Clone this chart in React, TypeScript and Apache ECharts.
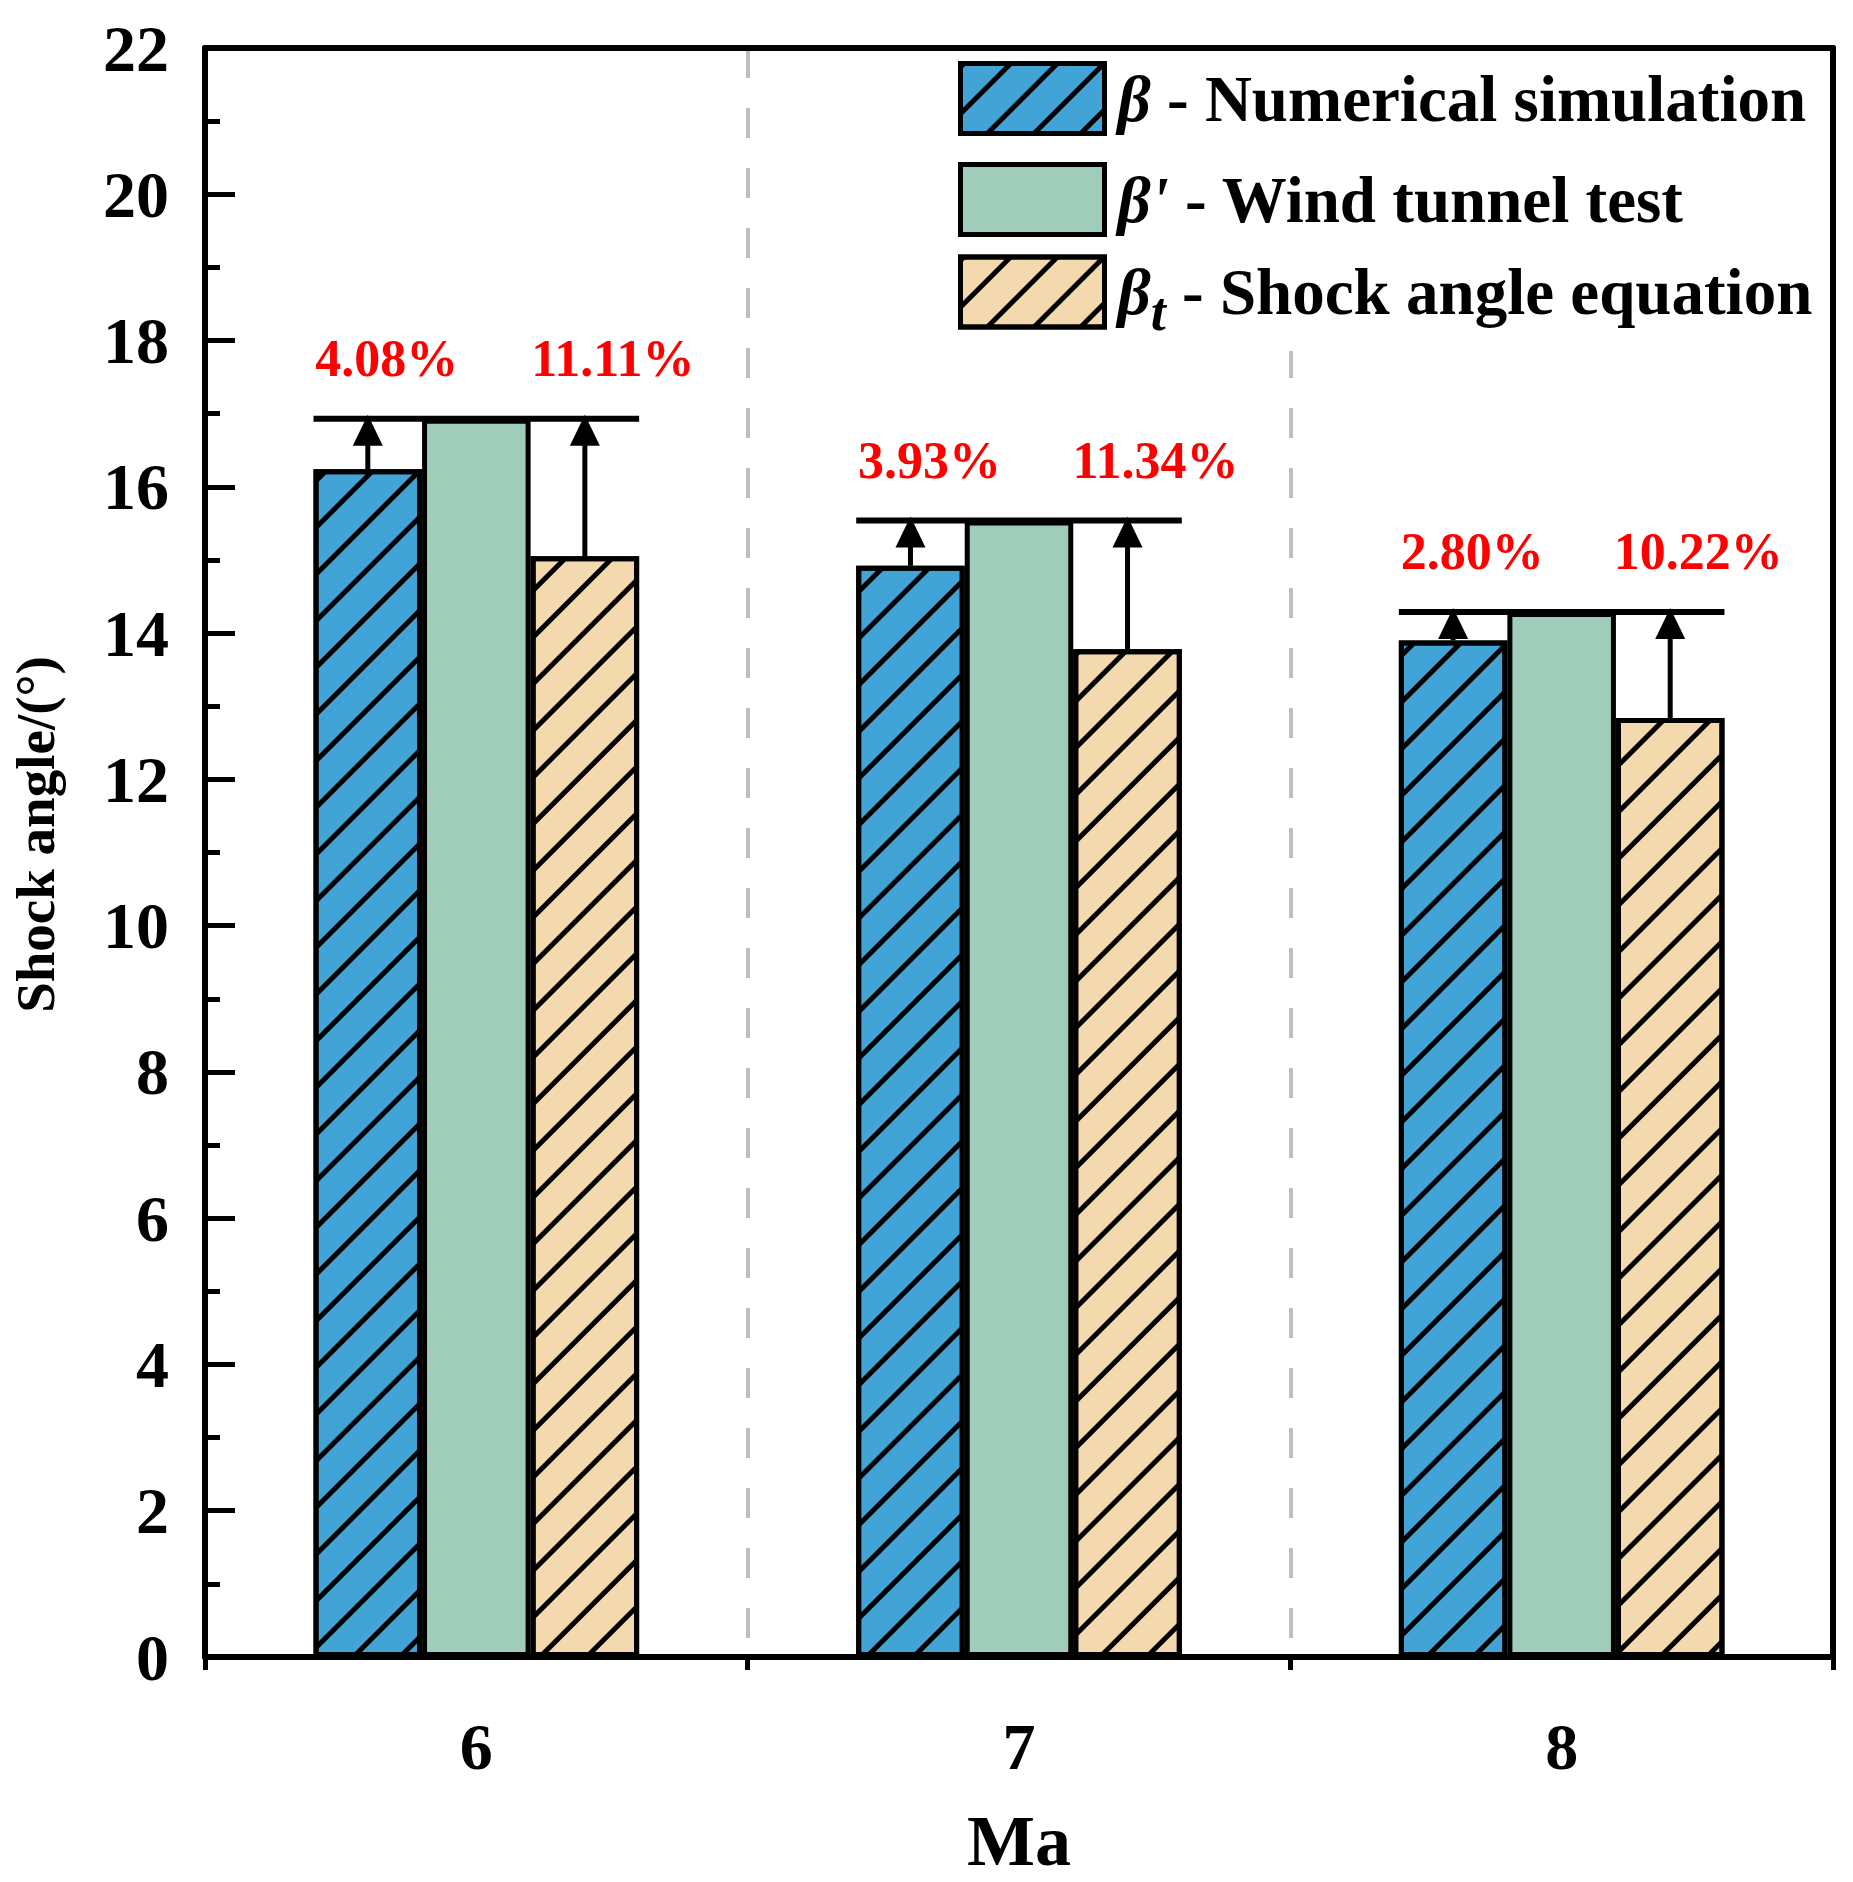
import { useEffect, useRef } from "react";
import * as echarts from "echarts";

const categories = ["6", "7", "8"];
const numerical = [16.24, 14.92, 13.9];
const windTunnel = [16.93, 15.54, 14.29];
const equation = [15.05, 13.78, 12.84];
const errNumerical = ["4.08%", "3.93%", "2.80%"];
const errEquation = ["11.11%", "11.34%", "10.22%"];

const FONT = "'Times New Roman', 'Liberation Serif', serif";
const CAT_GAP = 0.4;

const NAMES = ["β - Numerical simulation", "β' - Wind tunnel test", "βt - Shock angle equation"];
const LEGEND_RICH: Record<string, string> = {
    [NAMES[0]]: "{b|β} - Numerical simulation",
    [NAMES[1]]: "{b|β'} - Wind tunnel test",
    [NAMES[2]]: "{b|β}{s|t} - Shock angle equation",
};

// hachures "/" noires
const hatch = {
    symbol: "rect",
    symbolSize: 1,
    dashArrayX: [1, 0],
    dashArrayY: [5, 28],
    rotation: -Math.PI / 4,
    color: "#000",
};

export default function App() {
    const ref = useRef<HTMLDivElement | null>(null);

    useEffect(() => {
        document.body.style.margin = "0";
        if (!ref.current) return;
        const chart = echarts.init(ref.current, undefined, { renderer: "svg" });

        const barBase = {
            type: "bar" as const,
            barGap: "0%",
            barCategoryGap: `${CAT_GAP * 100}%`,
            xAxisIndex: 0,
            yAxisIndex: 0,
        };

        const legendBase = {
            orient: "vertical",
            left: 938,
            itemWidth: 144,
            itemHeight: 70,
            itemGap: 26,
            icon: "rect",
            backgroundColor: "#fff",
            itemStyle: { borderColor: "#000", borderWidth: 5 },
            formatter: (name: string) => LEGEND_RICH[name] ?? name,
            textStyle: {
                fontFamily: FONT,
                fontWeight: "bold",
                fontSize: 65,
                color: "#000",
                rich: {
                    b: { fontFamily: FONT, fontWeight: "bold", fontStyle: "italic", fontSize: 65, padding: [0, 0, 0, 8] },
                    // indice abaissé sans agrandir la ligne
                    s: {
                        fontFamily: FONT,
                        fontWeight: "bold",
                        fontStyle: "italic",
                        fontSize: 54,
                        lineHeight: 22,
                        padding: [40, 0, 0, 0],
                    },
                },
            },
        };

        const option: any = {
            animation: false,
            backgroundColor: "#fff",
            grid: { left: 204, right: 20, top: 48, bottom: 210, show: false },
            // deux légendes pour placer la 3e ligne plus près, comme dans l'original
            legend: [
                { ...legendBase, top: 50, padding: [11, 20, 15, 20], data: NAMES.slice(0, 2) },
                { ...legendBase, top: 234, padding: [11, 20, 12, 20], data: NAMES.slice(2) },
            ],
            xAxis: [
                {
                    type: "category",
                    data: categories,
                    position: "bottom",
                    z: 5,
                    name: "Ma",
                    nameLocation: "middle",
                    nameGap: 148,
                    nameTextStyle: { fontFamily: FONT, fontWeight: "bold", fontSize: 72, color: "#000" },
                    axisLine: { lineStyle: { color: "#000", width: 6 } },
                    axisTick: { alignWithLabel: true, length: 30, lineStyle: { color: "#000", width: 5 } },
                    axisLabel: { fontFamily: FONT, fontWeight: "bold", fontSize: 66, color: "#000", margin: 56 },
                    splitLine: { show: false },
                },
                {
                    type: "category",
                    data: categories,
                    position: "bottom",
                    axisLine: { show: false },
                    axisTick: { show: true, length: 13, lineStyle: { color: "#000", width: 5 } },
                    axisLabel: { show: false },
                    splitLine: { show: true, lineStyle: { color: "#BFBFBF", width: 4, type: [30, 30] } },
                },
                {
                    type: "category",
                    data: categories,
                    position: "top",
                    z: 5,
                    axisLine: { lineStyle: { color: "#000", width: 6 } },
                    axisTick: { show: false },
                    axisLabel: { show: false },
                },
            ],
            yAxis: [
                {
                    type: "value",
                    min: 0,
                    max: 22,
                    interval: 2,
                    z: 5,
                    name: "Shock angle/(°)",
                    nameLocation: "middle",
                    nameRotate: 90,
                    nameGap: 142,
                    nameTextStyle: { fontFamily: FONT, fontWeight: "bold", fontSize: 55, color: "#000", padding: [0, 0, 0, 36] },
                    axisLine: { show: true, lineStyle: { color: "#000", width: 6 } },
                    axisTick: { show: true, inside: true, length: 30, lineStyle: { color: "#000", width: 5 } },
                    minorTick: { show: true, splitNumber: 2, length: 15, lineStyle: { color: "#000", width: 5 } },
                    axisLabel: { fontFamily: FONT, fontWeight: "bold", fontSize: 66, color: "#000", margin: 36 },
                    splitLine: { show: false },
                },
                {
                    type: "value",
                    min: 0,
                    max: 22,
                    interval: 2,
                    position: "right",
                    z: 5,
                    axisLine: { show: true, lineStyle: { color: "#000", width: 6 } },
                    axisTick: { show: false },
                    axisLabel: { show: false },
                    splitLine: { show: false },
                },
            ],
            series: [
                {
                    ...barBase,
                    name: NAMES[0],
                    data: numerical,
                    itemStyle: { color: "#42A3D7", borderColor: "#000", borderWidth: 5, decal: hatch },
                },
                {
                    ...barBase,
                    name: NAMES[1],
                    data: windTunnel,
                    itemStyle: { color: "#A0CDB9", borderColor: "#000", borderWidth: 5 },
                },
                {
                    ...barBase,
                    name: NAMES[2],
                    data: equation,
                    itemStyle: { color: "#F5D9AE", borderColor: "#000", borderWidth: 5, decal: hatch },
                },
                {
                    // barre d'écart + flèches + pourcentages
                    type: "custom",
                    name: "errors",
                    z: 3,
                    clip: false,
                    silent: true,
                    encode: { x: 0, y: [1, 2, 3] },
                    data: categories.map((c, i) => [c, windTunnel[i], numerical[i], equation[i]]),
                    renderItem: (params: any, api: any) => {
                        const i = params.dataIndex;
                        const cat = api.value(0);
                        const [cx, yg] = api.coord([cat, api.value(1)]);
                        const yb = api.coord([cat, api.value(2)])[1];
                        const yt = api.coord([cat, api.value(3)])[1];
                        const bw = (api.size([1, 0])[0] * (1 - CAT_GAP)) / 3;
                        const bx = cx - bw;
                        const tx = cx + bw;
                        const arrow = (x: number, y0: number) => [
                            {
                                type: "line",
                                shape: { x1: x, y1: y0, x2: x, y2: yg + 20 },
                                style: { stroke: "#000", lineWidth: 5 },
                            },
                            {
                                type: "polygon",
                                shape: { points: [[x - 15, yg + 27], [x + 15, yg + 27], [x, yg - 4]] },
                                style: { fill: "#000" },
                            },
                        ];
                        const label = (x: number, text: string) => ({
                            type: "text",
                            x,
                            y: yg - 60,
                            style: {
                                text,
                                fill: "#FF0000",
                                fontFamily: FONT,
                                fontWeight: "bold",
                                fontSize: 52,
                                align: "center",
                                verticalAlign: "middle",
                                textAlign: "center",
                                textVerticalAlign: "middle",
                            },
                        });
                        return {
                            type: "group",
                            children: [
                                {
                                    type: "line",
                                    shape: { x1: cx - 1.5 * bw, y1: yg, x2: cx + 1.5 * bw, y2: yg },
                                    style: { stroke: "#000", lineWidth: 6 },
                                },
                                ...arrow(bx, yb),
                                ...arrow(tx, yt),
                                label(bx + 19, errNumerical[i]),
                                label(tx + 28, errEquation[i]),
                            ],
                        };
                    },
                },
            ],
        };

        chart.setOption(option);
        return () => {
            chart.dispose();
        };
    }, []);

    return <div ref={ref} style={{ width: 1853, height: 1882 }} />;
}
